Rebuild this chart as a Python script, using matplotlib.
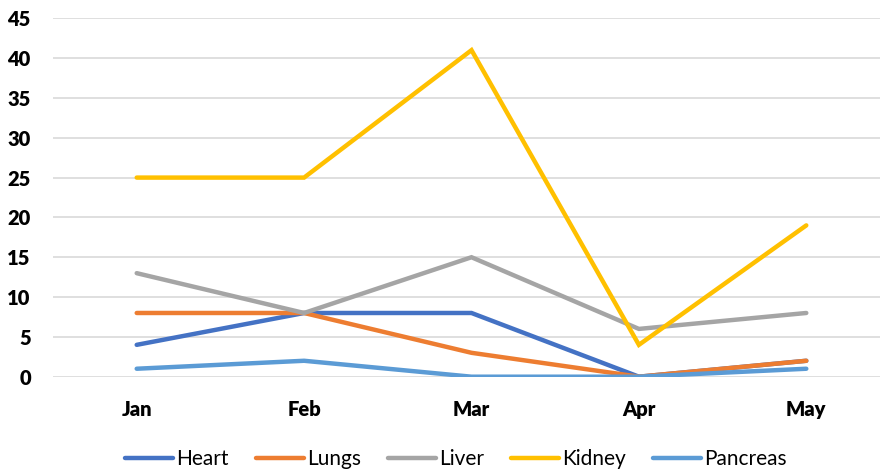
"""Organ counts by month - line chart."""
import matplotlib
matplotlib.use('Agg')
import matplotlib.pyplot as plt

months = ['Jan', 'Feb', 'Mar', 'Apr', 'May']
heart = [4, 8, 8, 0, 2]
lungs = [8, 8, 3, 0, 2]
liver = [13, 8, 15, 6, 8]
kidney = [25, 25, 41, 4, 19]
pancreas = [1, 2, 0, 0, 1]

series = [('Heart', heart, '#4472C4'), ('Lungs', lungs, '#ED7D31'),
          ('Liver', liver, '#A5A5A5'), ('Kidney', kidney, '#FFC000'),
          ('Pancreas', pancreas, '#5B9BD5')]

plt.rcParams['font.family'] = ['Lato', 'DejaVu Sans']

fig = plt.figure(figsize=(8.8, 4.72), dpi=100)
ax = fig.add_axes([53/880, (472-376.7)/472, (890-53)/880, (376.7-18.3)/472])
x = range(len(months))
for name, vals, col in series:
    ax.plot(x, vals, color=col, lw=3.2, label=name, solid_capstyle='round', solid_joinstyle='miter')

ax.set_xlim(-0.5, 4.5); ax.set_ylim(0, 45)
ax.set_yticks(range(0, 46, 5))
ax.set_xticks(list(x)); ax.set_xticklabels(months)
ax.tick_params(length=0, labelsize=14.5)
ax.tick_params(axis='x', pad=17)
ax.tick_params(axis='y', pad=16)
for lab in ax.get_xticklabels() + ax.get_yticklabels():
    lab.set_fontweight('heavy')
for s in ax.spines.values():
    s.set_visible(False)
ax.grid(axis='y', color='#D9D9D9', lw=1.2)
ax.set_axisbelow(True)

fig.legend(loc='center', bbox_to_anchor=(456/880, 1-459/472), ncol=5, frameon=False,
           fontsize=15, handlelength=2.3, handletextpad=0.15, columnspacing=1.3)
plt.savefig('out.png', dpi=100)
